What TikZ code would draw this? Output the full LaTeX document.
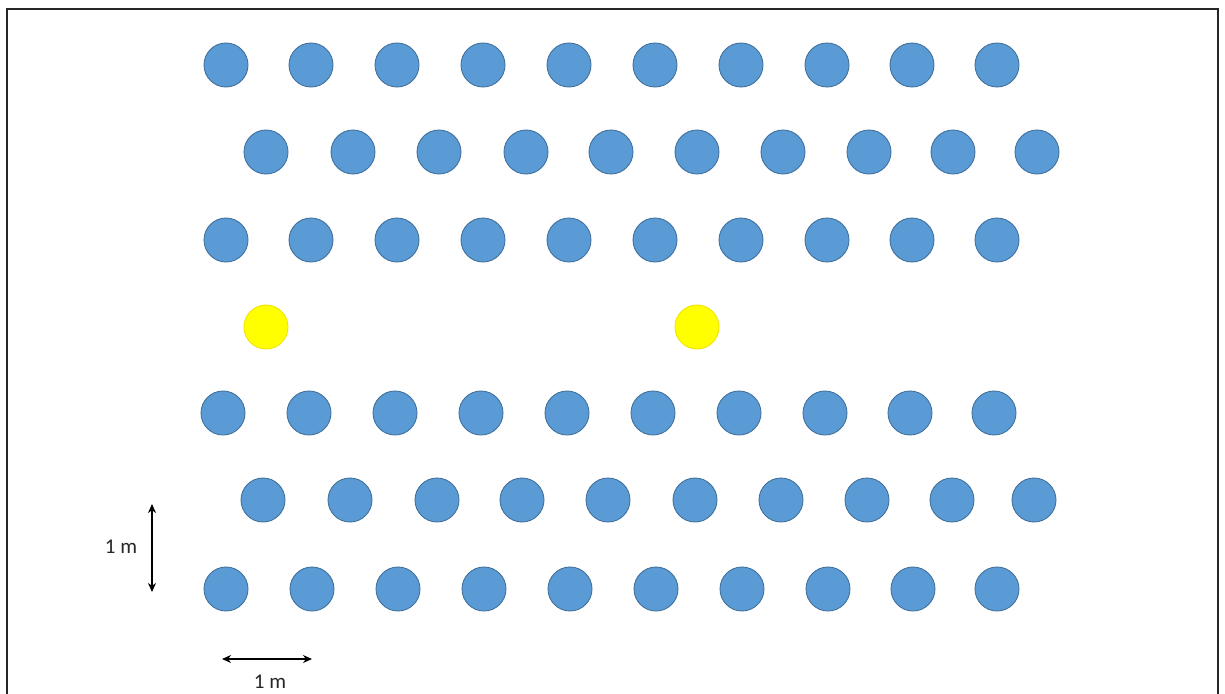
\documentclass[tikz,border=0pt]{standalone}
\usepackage{fontspec}
\setmainfont{Carlito}
\usetikzlibrary{arrows.meta}
\definecolor{tree}{HTML}{5B9BD5}
\definecolor{treeedge}{HTML}{41719C}
\definecolor{sun}{HTML}{FFFF00}
\definecolor{sunedge}{HTML}{F2E400}
\tikzset{
  treedot/.style={circle, minimum size=44pt, inner sep=0pt, fill=tree, draw=treeedge, line width=0.9pt},
  yellowdot/.style={circle, minimum size=44pt, inner sep=0pt, fill=sun, draw=sunedge, line width=0.9pt},
  dimarrow/.style={{Stealth[length=9pt,width=8pt]}-{Stealth[length=9pt,width=8pt]}, line width=1.5pt, black},
  dimlabel/.style={font=\fontsize{21pt}{24pt}\selectfont, text=black!85, inner sep=0pt},
  frameline/.style={line width=1.8pt, black!85}
}
\begin{document}
\begin{tikzpicture}[x=1pt,y=-1pt]
\useasboundingbox (0,0) rectangle (1225,693);
\clip (0,0) rectangle (1225,693);
\fill[white] (0,0) rectangle (1225,693);
\draw[frameline] (7,700) -- (7,9) -- (1218,9) -- (1218,700);
% row 1
\foreach \x [count=\i] in {226,311,397,483,569,655,741,827,912,997}
  \node[treedot] (a\i) at (\x,65) {};
% row 2
\foreach \x [count=\i] in {266,353,439,526,611,697,783,869,953,1037}
  \node[treedot] (b\i) at (\x,152) {};
% row 3
\foreach \x [count=\i] in {226,311,397,483,569,655,741,827,912,997}
  \node[treedot] (c\i) at (\x,240) {};
% yellow row
\node[yellowdot] (y1) at (266,327) {};
\node[yellowdot] (y2) at (697,327) {};
% row 5
\foreach \x [count=\i] in {223,309,395,481,567,653,739,825,910,994}
  \node[treedot] (e\i) at (\x,413) {};
% row 6
\foreach \x [count=\i] in {263,350,437,522,608,695,781,867,952,1034}
  \node[treedot] (f\i) at (\x,500) {};
% row 7
\foreach \x [count=\i] in {226,312,398,484,570,656,742,828,913,997}
  \node[treedot] (g\i) at (\x,589) {};
% dimension arrows
\coordinate (vtop) at (152,504);
\coordinate (vbot) at (152,592);
\draw[dimarrow] (vtop) -- (vbot);
\node[dimlabel] (vlab) at (121,547) {1 m};
\coordinate (hl) at (222,659);
\coordinate (hr) at (312,659);
\draw[dimarrow] (hl) -- (hr);
\node[dimlabel] (hlab) at (270,682) {1 m};
\end{tikzpicture}
\end{document}
